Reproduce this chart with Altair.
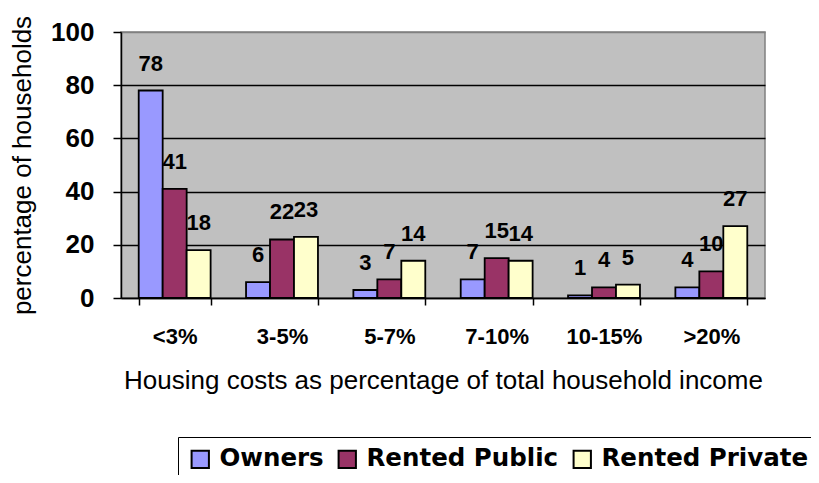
import altair as alt
import pandas as pd

categories = ["<3%", "3-5%", "5-7%", "7-10%", "10-15%", ">20%"]
series = ["Owners", "Rented Public", "Rented Private"]
owners = [78, 6, 3, 7, 1, 4]
rented_public = [41, 22, 7, 15, 4, 10]
rented_private = [18, 23, 14, 14, 5, 27]
colors = ["#9999FF", "#993366", "#FFFFCC"]

rows = []
for s, vals in zip(series, [owners, rented_public, rented_private]):
    for c, v in zip(categories, vals):
        rows.append({"category": c, "series": s, "value": v})
df = pd.DataFrame(rows)

FONT = "Liberation Sans"

x_enc = alt.X("category:N", sort=categories,
              scale=alt.Scale(paddingInner=0.33, paddingOuter=0.165),
              axis=alt.Axis(title="Housing costs as percentage of total household income",
                            labelAngle=0, labelFontWeight="bold", labelFontSize=22,
                            labelPadding=21, tickBand="extent", tickSize=7,
                            titleFontSize=26, titleFontWeight="normal", titlePadding=20,
                            grid=False, domainColor="black", tickColor="black",
                            domainWidth=1.5, tickWidth=1.5))
xoff = alt.XOffset("series:N", sort=series, scale=alt.Scale(paddingInner=0, paddingOuter=0))
y_enc = alt.Y("value:Q", scale=alt.Scale(domain=[0, 100], nice=False),
              axis=alt.Axis(title="percentage of households", values=[0, 20, 40, 60, 80, 100],
                            labelFontWeight="bold", labelFontSize=26, labelPadding=19,
                            tickSize=8, titleFontSize=26, titleFontWeight="normal",
                            titlePadding=15,
                            gridColor=alt.condition("datum.value == 100", alt.value("#808080"), alt.value("black")),
                            gridWidth=1.5,
                            domainColor="black", tickColor="black", domainWidth=1.5,
                            tickWidth=1.5))

bars = alt.Chart(df).mark_bar(stroke="black", strokeWidth=1.8).encode(
    x=x_enc, xOffset=xoff, y=y_enc,
    color=alt.Color("series:N", sort=series,
                    scale=alt.Scale(domain=series, range=colors),
                    legend=alt.Legend(title=None, orient="none", legendX=57, legendY=405,
                                      direction="horizontal", columns=3,
                                      strokeColor="black", padding=10,
                                      symbolType="square", symbolSize=300,
                                      symbolStrokeColor="black", symbolStrokeWidth=2,
                                      labelFontSize=24.5, labelFontWeight="bold",
                                      labelColor="black", columnPadding=10,
                                      labelOffset=7, labelFont="DejaVu Sans",
                                      labelLimit=0)),
)

labels = alt.Chart(df).mark_text(fontWeight="bold", fontSize=22, dy=-27,
                                 baseline="middle", color="black", font=FONT).encode(
    x=alt.X("category:N", sort=categories), xOffset=xoff, y="value:Q",
    text="value:Q",
)

chart = alt.layer(bars, labels).properties(
    width=644, height=266,
    padding={"left": 113, "top": 24, "right": 46, "bottom": 177},
    autosize=alt.AutoSizeParams(type="none"),
    background="white",
).configure(
    font=FONT
).configure_view(
    fill="#C0C0C0", stroke="#808080", strokeWidth=1.5
).configure_axis(
    labelColor="black", titleColor="black", labelFont=FONT, titleFont=FONT
)

chart.save("out.html", embed_options={"renderer": "svg", "actions": False})
